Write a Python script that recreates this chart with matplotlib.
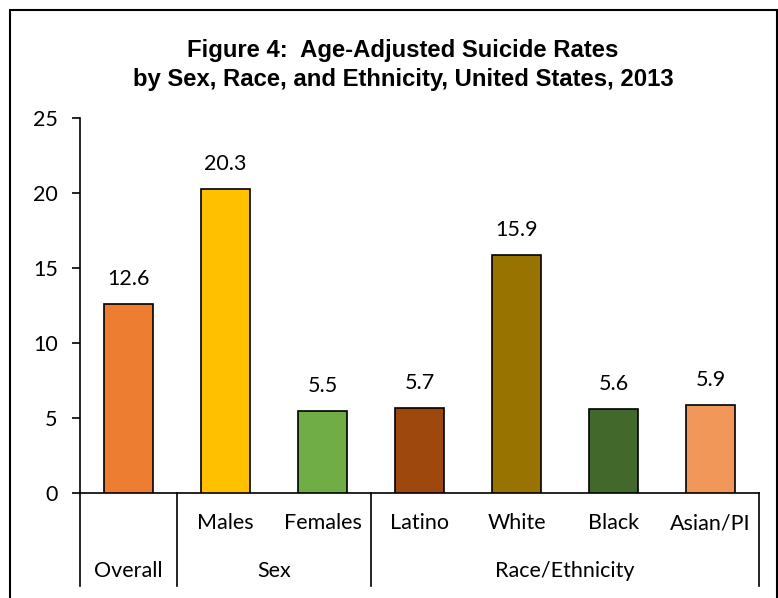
import matplotlib
matplotlib.use("Agg")
import matplotlib.pyplot as plt
from matplotlib.patches import Rectangle
from matplotlib.transforms import blended_transform_factory

# data
categories = ["Overall", "Males", "Females", "Latino", "White", "Black", "Asian/PI"]
rates = [12.6, 20.3, 5.5, 5.7, 15.9, 5.6, 5.9]
colors = ["#ED7D31", "#FFC000", "#70AD47", "#9E480E", "#997300", "#43682B", "#F1975A"]
# groups: (label, first index, last index)
groups = [("Overall", 0, 0), ("Sex", 1, 2), ("Race/Ethnicity", 3, 6)]
yticks = [0, 5, 10, 15, 20, 25]

W, H = 778, 598
fig = plt.figure(figsize=(W / 100, H / 100), dpi=100)

# outer frame around the chart
fig.patches.append(Rectangle((10 / W, -0.02), (777 - 10) / W, (H - 10) / H + 0.02,
                             transform=fig.transFigure, fill=False,
                             edgecolor="black", linewidth=1.5))

ax = fig.add_axes([80 / W, (H - 493) / H, (759 - 80) / W, (493 - 118) / H])

x = [i + 0.5 for i in range(len(categories))]
ax.bar(x, rates, width=0.5, color=colors, edgecolor="black", linewidth=1.2, zorder=3)

lab_font = "Lato"
fs = 15.5
for xi, v in zip(x, rates):
    ax.text(xi, v + 1.65, f"{v:.1f}", ha="center", va="center",
            fontsize=fs, family=lab_font)

ax.set_xlim(0, len(categories))
ax.set_ylim(0, 25)
ax.set_yticks(yticks)
ax.set_yticklabels([str(t) for t in yticks], fontsize=fs, family=lab_font)
ax.tick_params(axis="y", direction="out", length=6, width=1.2, pad=10)
ax.set_xticks([])
for s in ["top", "right"]:
    ax.spines[s].set_visible(False)
ax.spines["left"].set_linewidth(1.2)
ax.spines["bottom"].set_linewidth(1.2)

# multi-level category axis
tr = blended_transform_factory(ax.transData, ax.transAxes)
bottom = -0.248
for xi, name in zip(x, categories):
    if name != "Overall":
        ax.text(xi, -0.08, name, transform=tr, ha="center", va="center",
                fontsize=fs, family=lab_font)
edges = [0]
for label, a, b in groups:
    ax.text((a + b + 1) / 2, -0.208, label, transform=tr, ha="center", va="center",
            fontsize=fs, family=lab_font)
    edges.append(b + 1)
for e in edges:
    ax.plot([e, e], [0, bottom], transform=tr, color="black", linewidth=1.2,
            clip_on=False)

fig.text(403 / W, 1 - 65 / H,
         "Figure 4:  Age-Adjusted Suicide Rates\nby Sex, Race, and Ethnicity, United States, 2013",
         ha="center", va="center", fontsize=17.2, fontweight="bold",
         family="Liberation Sans", linespacing=1.3)

fig.savefig("out.png", dpi=100)
